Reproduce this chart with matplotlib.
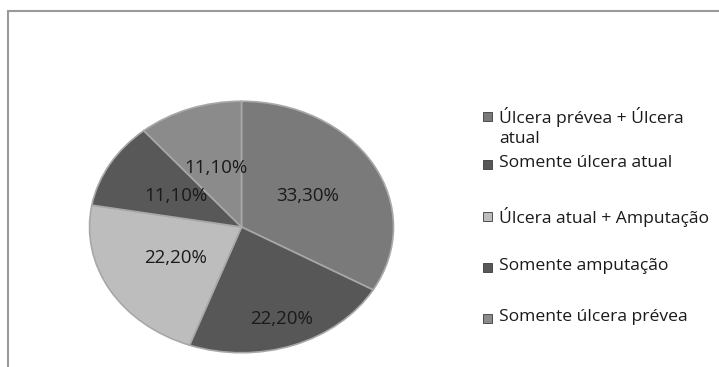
import matplotlib.pyplot as plt
import numpy as np
from matplotlib.patches import Rectangle

plt.rcParams['font.family'] = ['Open Sans', 'DejaVu Sans']

categorias = ["Úlcera prévea + Úlcera\natual", "Somente úlcera atual",
              "Úlcera atual + Amputação", "Somente amputação",
              "Somente úlcera prévea"]
valores = [33.3, 22.2, 22.2, 11.1, 11.1]
rotulos = ["33,30%", "22,20%", "22,20%", "11,10%", "11,10%"]
cores = ["#7a7a7a", "#575757", "#bdbdbd", "#585858", "#8b8b8b"]
dist_rotulo = [0.5, 0.78, 0.5, 0.5, 0.5]

fig = plt.figure(figsize=(7.19, 3.67), dpi=100)

# moldura do grafico (cortada a direita e embaixo)
fig.add_artist(Rectangle((8 / 719, -0.05), 1.0, 1 - 11 / 367 + 0.05,
                         transform=fig.transFigure, fill=False,
                         edgecolor="#9a9a9a", linewidth=1.5))

ax = fig.add_axes([88 / 719, 1 - 354 / 367, 307 / 719, 254 / 367])
wedges, _ = ax.pie(valores, colors=cores, startangle=90, counterclock=False,
                   radius=1, wedgeprops=dict(edgecolor="#a8a8a8", linewidth=1.2))
ax.set_aspect('auto')
ax.set_xlim(-1.01, 1.01)
ax.set_ylim(-1.01, 1.01)

for w, txt, d in zip(wedges, rotulos, dist_rotulo):
    ang = np.deg2rad((w.theta1 + w.theta2) / 2)
    ax.text(d * np.cos(ang), d * np.sin(ang), txt, ha='center', va='center',
            fontsize=13.5, color="#1a1a1a")

# legenda
ys = [117, 165, 217, 268, 319]
for cat, cor, y in zip(categorias, cores, ys):
    fig.add_artist(Rectangle((483 / 719, 1 - (y + 4) / 367), 9 / 719, 9 / 367,
                             transform=fig.transFigure, facecolor=cor,
                             edgecolor="#3a3a3a", linewidth=0.6))
    fig.text(499 / 719, 1 - (y - 10) / 367, cat, ha='left', va='top',
             fontsize=12.6, color="#1a1a1a", linespacing=1.3)

fig.savefig("out.png", dpi=100)
